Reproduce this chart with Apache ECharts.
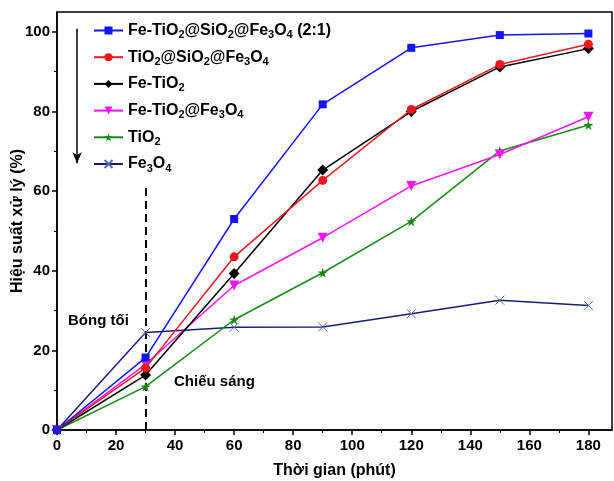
<!DOCTYPE html>
<html><head><meta charset="utf-8">
<script src="https://cdn.jsdelivr.net/npm/echarts@6/dist/echarts.min.js"></script>
<style>html,body{margin:0;padding:0;background:#fff}#c{width:614px;height:481px}</style>
</head><body><div id="c"></div>
<script>
var times = [0, 30, 60, 90, 120, 150, 180];
var feTiO2SiO2Fe3O4 = [0, 18.2, 53, 81.8, 96, 99.2, 99.6];
var tiO2SiO2Fe3O4 = [0, 15.6, 43.5, 62.7, 80.5, 91.8, 96.9];
var feTiO2 = [0, 13.8, 39.3, 65.3, 80, 91.2, 95.8];
var feTiO2Fe3O4 = [0, 16.5, 36.3, 48.3, 61.3, 69.2, 78.7];
var tiO2 = [0, 10.9, 27.7, 39.5, 52.4, 70.1, 76.6];
var fe3O4 = [0, 24.5, 25.8, 25.9, 29.2, 32.6, 31.3];
var names = ['Fe-TiO{s|2}@SiO{s|2}@Fe{s|3}O{s|4} (2:1)', 'TiO{s|2}@SiO{s|2}@Fe{s|3}O{s|4}', 'Fe-TiO{s|2}', 'Fe-TiO{s|2}@Fe{s|3}O{s|4}', 'TiO{s|2}', 'Fe{s|3}O{s|4}'];
var keys = ['a', 'b', 'c', 'd', 'e', 'f'];
var xTicks = [0, 20, 40, 60, 80, 100, 120, 140, 160, 180];
var yTicks = [0, 20, 40, 60, 80, 100];

function pairs(v) { return times.map(function (t, i) { return [t, v[i]]; }); }
var star = 'path://M50,0L61.8,35.4L100,35.4L69.1,57.3L80.9,92.7L50,70.8L19.1,92.7L30.9,57.3L0,35.4L38.2,35.4Z';
var cross = 'path://M0,0L10,10M10,0L0,10';
var FONT = 'Liberation Sans, Arial, sans-serif';

function mk(i, data, color, symbol, size, extra) {
  var s = {
    name: keys[i], type: 'line', data: pairs(data), symbol: symbol, symbolSize: size,
    lineStyle: { color: color, width: 1.5 }, itemStyle: { color: color },
    showSymbol: true, z: 10 - i
  };
  if (extra) for (var k in extra) s[k] = extra[k];
  return s;
}

var chart = echarts.init(document.getElementById('c'));
var rich = {
  n: { fontSize: 16, fontWeight: 'bold', fontFamily: FONT, color: '#000', lineHeight: 20 },
  s: { fontSize: 11, fontWeight: 'bold', fontFamily: FONT, color: '#000', lineHeight: 20, verticalAlign: 'bottom' }
};
function fmtName(k) {
  var raw = names[keys.indexOf(k)];
  return raw.replace(/(^|\})([^{}]+)(\{|$)/g, function (m, a, txt, b) { return a + '{n|' + txt + '}' + b; });
}
chart.setOption({
  animation: false,
  backgroundColor: '#fff',
  grid: { left: 57, right: 2, top: 12, bottom: 51, show: true, borderColor: '#000', borderWidth: 1.5,
    containLabel: false, outerBoundsMode: 'none' },
  legend: {
    orient: 'vertical', left: 93, top: 22.5, padding: 0, itemWidth: 29, itemHeight: 10, itemGap: 8.7,
    data: keys, formatter: fmtName,
    textStyle: { fontSize: 16, fontWeight: 'bold', fontFamily: FONT, color: '#000', rich: rich }
  },
  xAxis: {
    type: 'value', min: 0, max: 188, interval: 20,
    name: 'Thời gian (phút)', nameLocation: 'middle', nameGap: 33, nameMoveOverlap: false,
    nameTextStyle: { fontSize: 16, fontWeight: 'bold', fontFamily: FONT, color: '#000' },
    axisLine: { show: true, lineStyle: { color: '#000', width: 1.5 } },
    axisTick: { show: true, inside: false, length: 5, lineStyle: { color: '#000', width: 1.5 },
      customValues: xTicks },
    minorTick: { show: true, splitNumber: 2, length: 3, lineStyle: { color: '#000', width: 1 } },
    splitLine: { show: false },
    axisLabel: { color: '#000', fontSize: 15, fontWeight: 'bold', fontFamily: FONT, margin: 8,
      customValues: xTicks }
  },
  yAxis: {
    type: 'value', min: 0, max: 105, interval: 20,
    name: 'Hiệu suất xử lý (%)', nameLocation: 'middle', nameGap: 31, nameMoveOverlap: false,
    nameTextStyle: { fontSize: 16, fontWeight: 'bold', fontFamily: FONT, color: '#000' },
    axisLine: { show: true, lineStyle: { color: '#000', width: 1.5 } },
    axisTick: { show: true, inside: false, length: 5, lineStyle: { color: '#000', width: 1.5 },
      customValues: yTicks },
    minorTick: { show: true, splitNumber: 2, length: 3, lineStyle: { color: '#000', width: 1 } },
    splitLine: { show: false },
    axisLabel: { color: '#000', fontSize: 15, fontWeight: 'bold', fontFamily: FONT, margin: 7,
      customValues: yTicks }
  },
  series: [
    mk(0, feTiO2SiO2Fe3O4, '#1414f5', 'rect', 8, {
      markLine: {
        silent: true, symbol: 'none', label: { show: false },
        lineStyle: { color: '#000', width: 2, type: [8, 5] },
        data: [[{ coord: [30, 0] }, { coord: [30, 61] }]]
      }
    }),
    mk(1, tiO2SiO2Fe3O4, '#e8191e', 'circle', 9),
    mk(2, feTiO2, '#000000', 'diamond', 11),
    mk(3, feTiO2Fe3O4, '#f214f2', 'triangle', 10, { symbolRotate: 180 }),
    mk(4, tiO2, '#178a17', star, 10),
    mk(5, fe3O4, '#1c1c78', cross, 9, {
      itemStyle: { color: '#5a6aa8', borderColor: '#5a6aa8', borderWidth: 1 },
      markLine: {
        silent: true, symbol: ['none', 'arrow'], symbolSize: [7, 11], label: { show: false },
        lineStyle: { color: '#000', width: 1.5, type: 'solid' },
        data: [[{ coord: [6.8, 100.8] }, { coord: [6.8, 67] }]]
      }
    })
  ],
  graphic: [
    { type: 'text', left: 68, top: 313, style: { text: 'Bóng tối', fontSize: 15, fontWeight: 'bold', fontFamily: FONT, fill: '#000' } },
    { type: 'text', left: 174, top: 374, style: { text: 'Chiếu sáng', fontSize: 15, fontWeight: 'bold', fontFamily: FONT, fill: '#000' } }
  ]
});
</script></body></html>
